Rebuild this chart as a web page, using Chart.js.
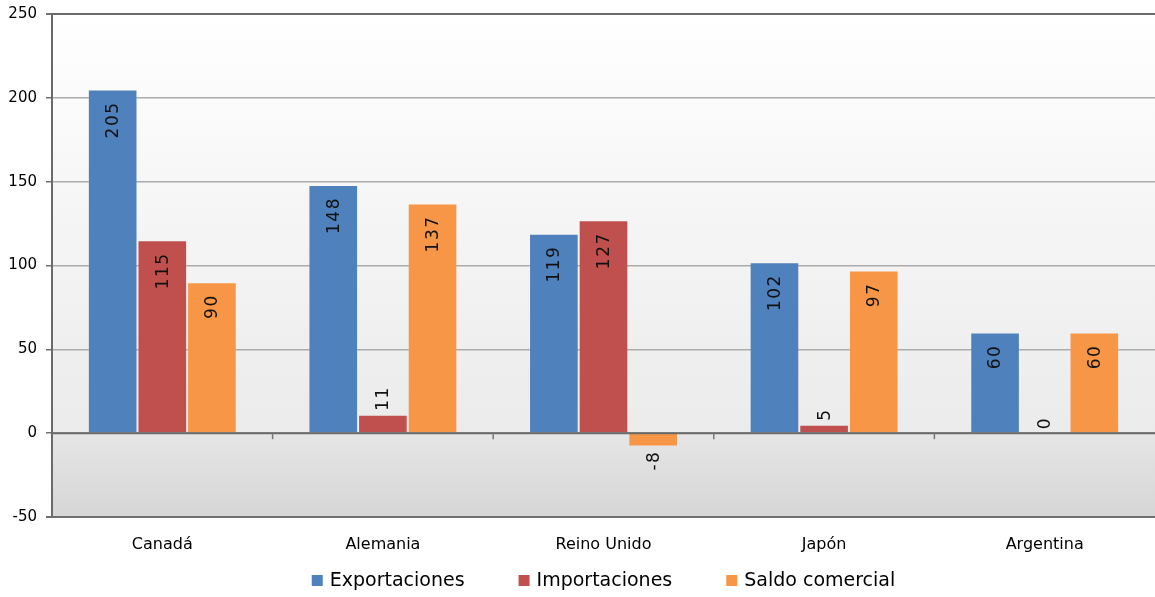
<!DOCTYPE html>
<html>
<head>
<meta charset="utf-8">
<script src="https://cdn.jsdelivr.net/npm/chart.js@4/dist/chart.umd.min.js"></script>
<style>
  body { margin: 0; background: #fff; }
  canvas { display: block; }
</style>
</head>
<body>
<canvas id="trade_chart" width="1155" height="597"></canvas>
<script>
// categories and series
const countries = ['Canadá', 'Alemania', 'Reino Unido', 'Japón', 'Argentina'];
const exportaciones = [205, 148, 119, 102, 60];
const importaciones = [115, 11, 127, 5, 0];
const saldo_comercial = [90, 137, -8, 97, 60];
const y_ticks = [-50, 0, 50, 100, 150, 200, 250];

const FONT = '"DejaVu Sans", Verdana, sans-serif';

// plot area gradient (white at top, grey at bottom)
const plotBackground = {
  id: 'plotBackground',
  beforeDraw(chart) {
    const {ctx, chartArea: a, scales} = chart;
    const zero = scales.y.getPixelForValue(0);
    const f = (zero - a.top) / (a.bottom - a.top);
    const g = ctx.createLinearGradient(0, a.top, 0, a.bottom);
    g.addColorStop(0, '#ffffff');
    g.addColorStop(f, '#ebebeb');
    g.addColorStop(Math.min(f + 0.005, 1), '#e5e5e5');
    g.addColorStop(1, '#d6d6d6');
    ctx.save();
    ctx.fillStyle = g;
    ctx.fillRect(a.left, a.top, a.right - a.left, a.bottom - a.top);
    ctx.restore();
  }
};

// zero line with category tick marks + rotated value labels
const zeroAndLabels = {
  id: 'zeroAndLabels',
  afterDatasetsDraw(chart) {
    const {ctx, chartArea: a, scales} = chart;
    const zero = scales.y.getPixelForValue(0);
    ctx.save();
    ctx.strokeStyle = '#6a6a6a';
    ctx.lineWidth = 2;
    ctx.beginPath();
    ctx.moveTo(a.left, zero);
    ctx.lineTo(a.right, zero);
    ctx.stroke();
    ctx.lineWidth = 1.5;
    ctx.strokeStyle = '#777';
    for (let i = 0; i < countries.length - 1; i++) {
      const x = (scales.x.getPixelForValue(i) + scales.x.getPixelForValue(i + 1)) / 2;
      ctx.beginPath();
      ctx.moveTo(x, zero);
      ctx.lineTo(x, zero + 6);
      ctx.stroke();
    }

    ctx.font = '17px ' + FONT;
    if ('letterSpacing' in ctx) ctx.letterSpacing = '1.5px';
    ctx.fillStyle = '#111';
    ctx.textBaseline = 'middle';
    chart.data.datasets.forEach((ds, di) => {
      const meta = chart.getDatasetMeta(di);
      meta.data.forEach((bar, i) => {
        const v = ds.data[i];
        const txt = String(v);
        const len = ctx.measureText(txt).width;
        const h = Math.abs(bar.base - bar.y);
        ctx.save();
        if (v >= 0) {
          if (h > len + 26) {
            ctx.translate(bar.x, bar.y + 12);
            ctx.textAlign = 'right';
          } else {
            ctx.translate(bar.x, bar.y - 4);
            ctx.textAlign = 'left';
          }
        } else {
          if (h > len + 26) {
            ctx.translate(bar.x, bar.y - 12);
            ctx.textAlign = 'left';
          } else {
            ctx.translate(bar.x, bar.y + 4);
            ctx.textAlign = 'right';
          }
        }
        ctx.rotate(-Math.PI / 2);
        ctx.fillText(txt, 0, 1);
        ctx.restore();
      });
    });
    ctx.restore();
  }
};

// legend drawn under the axis labels
const bottomLegend = {
  id: 'bottomLegend',
  afterDraw(chart) {
    const {ctx, chartArea: a} = chart;
    const box = 11, gapText = 7, gapItem = 54;
    ctx.save();
    ctx.font = '19px ' + FONT;
    ctx.textBaseline = 'middle';
    ctx.textAlign = 'left';
    const items = chart.data.datasets.map(ds => ({
      label: ds.label, color: ds.backgroundColor, w: ctx.measureText(ds.label).width
    }));
    const total = items.reduce((s, it) => s + box + gapText + it.w, 0) + gapItem * (items.length - 1);
    let x = (a.left + a.right) / 2 - total / 2;
    const y = 581;
    items.forEach(it => {
      ctx.fillStyle = it.color;
      ctx.fillRect(x, y - box / 2 - 0.5, box, box);
      ctx.fillStyle = '#000';
      ctx.fillText(it.label, x + box + gapText, y);
      x += box + gapText + it.w + gapItem;
    });
    ctx.restore();
  }
};

const barBorder = 'rgba(255,255,255,0.12)';

const trade_chart = new Chart(document.getElementById('trade_chart'), {
  type: 'bar',
  data: {
    labels: countries,
    datasets: [
      {label: 'Exportaciones', data: exportaciones, backgroundColor: '#4f81bd', borderColor: barBorder, borderWidth: 1},
      {label: 'Importaciones', data: importaciones, backgroundColor: '#c0504d', borderColor: barBorder, borderWidth: 1},
      {label: 'Saldo comercial', data: saldo_comercial, backgroundColor: '#f79646', borderColor: barBorder, borderWidth: 1},
    ]
  },
  options: {
    responsive: false,
    animation: false,
    devicePixelRatio: 1,
    layout: {padding: {top: 14, right: 0, left: 0, bottom: 40}},
    datasets: {bar: {barPercentage: 1, categoryPercentage: 0.675}},
    plugins: {
      legend: {display: false},
      tooltip: {enabled: false}
    },
    scales: {
      x: {
        grid: {display: false},
        border: {display: true, color: '#707070', width: 2},
        ticks: {font: {family: FONT, size: 16}, color: '#000', padding: 10, maxRotation: 0},
        afterFit: scale => { scale.height = 40; scale.paddingLeft = 0; scale.paddingRight = 0; }
      },
      y: {
        min: -50,
        max: 250,
        afterBuildTicks: scale => { scale.ticks = y_ticks.map(v => ({value: v})); },
        grid: {
          color: c => (c.tick && (c.tick.value === 250 || c.tick.value === -50)) ? '#6a6a6a' : '#ababab',
          lineWidth: c => (c.tick && (c.tick.value === 250 || c.tick.value === -50)) ? 2 : 1.5,
          tickColor: '#707070',
          tickLength: 6
        },
        border: {display: true, color: '#6a6a6a', width: 2},
        ticks: {font: {family: FONT, size: 15}, color: '#000', padding: 9},
        afterFit: scale => { scale.width = 52; scale.paddingTop = 0; scale.paddingBottom = 0; }
      }
    }
  },
  plugins: [plotBackground, zeroAndLabels, bottomLegend]
});
</script>
</body>
</html>
